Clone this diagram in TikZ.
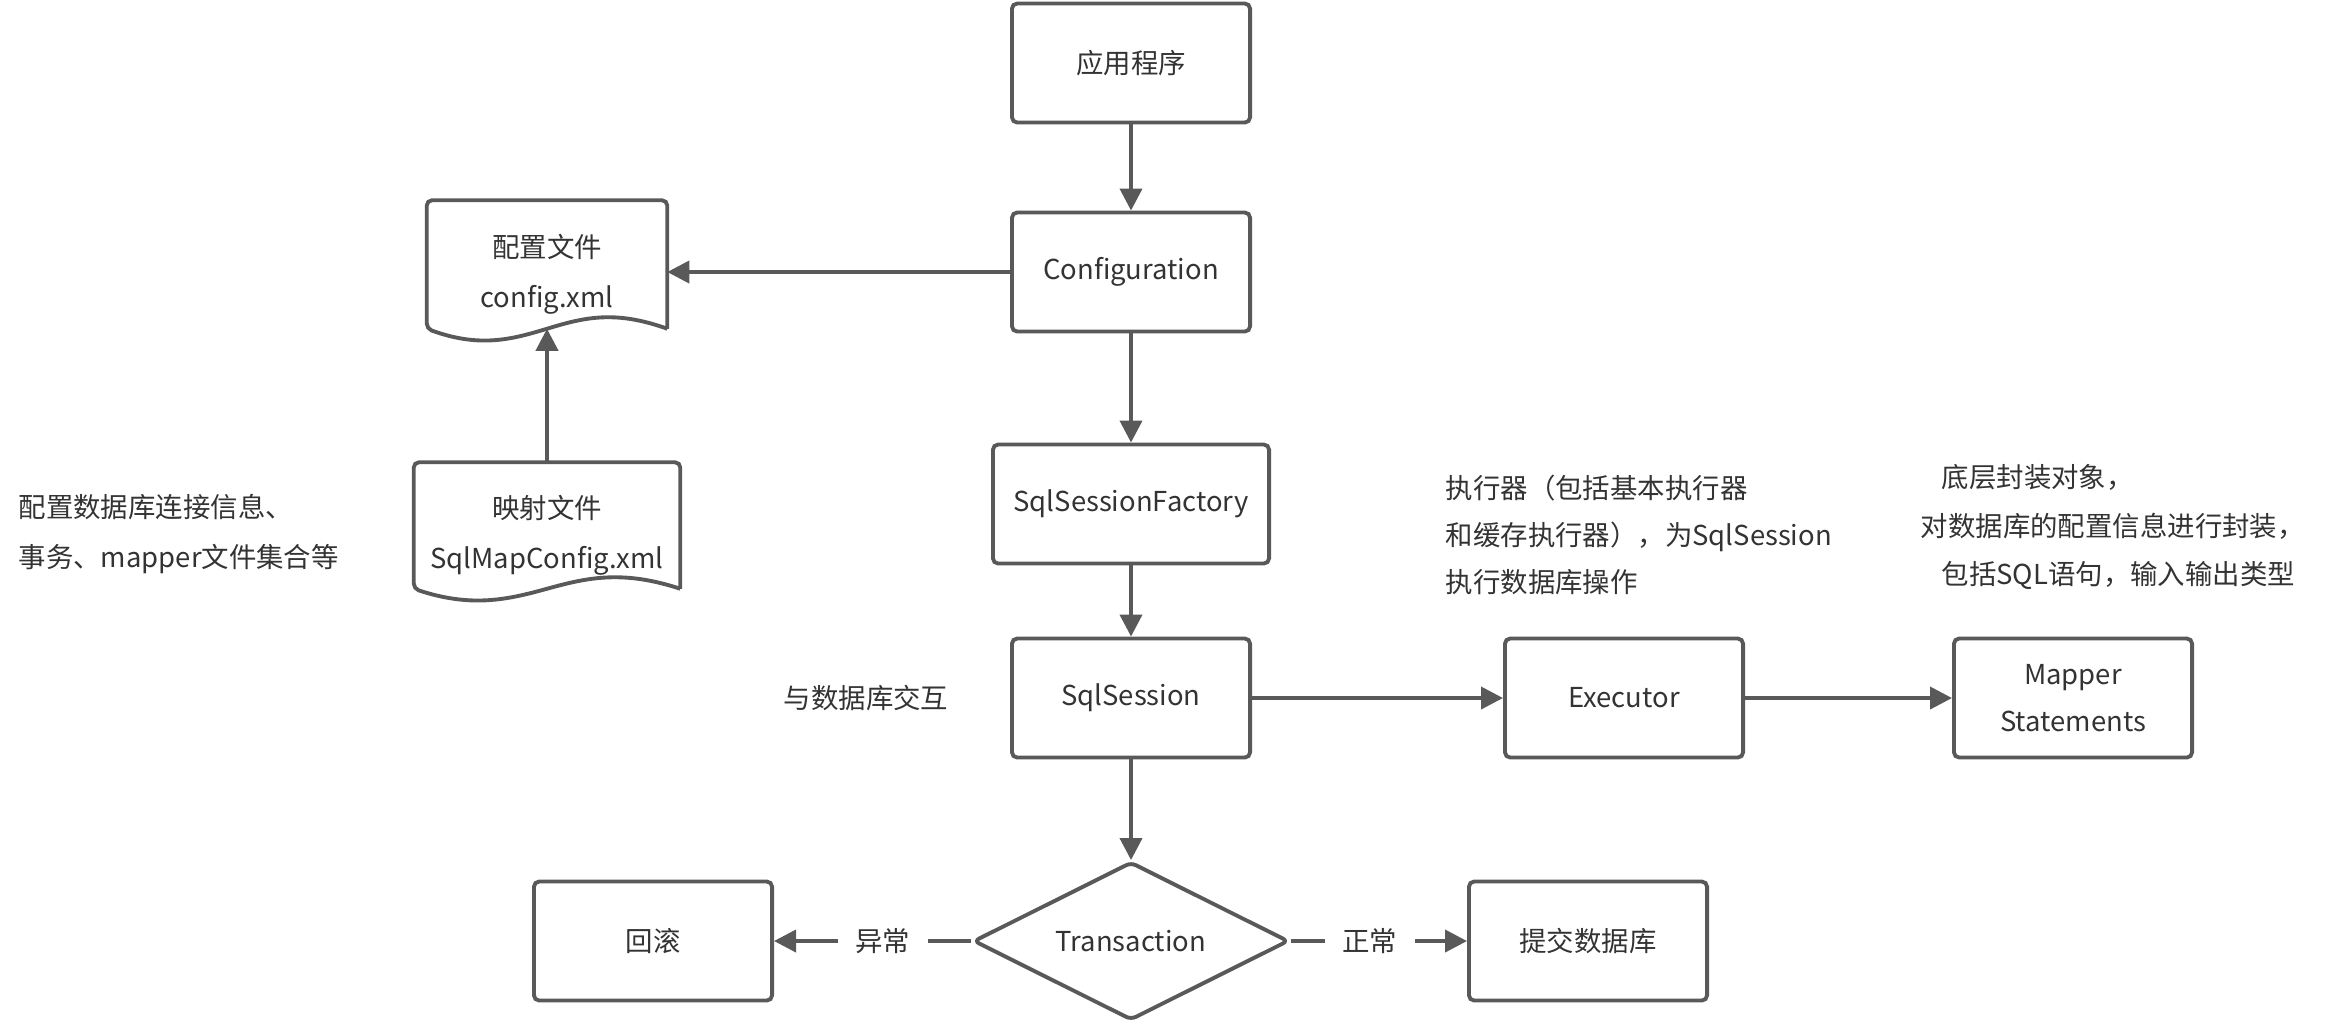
\documentclass[tikz,border=0pt]{standalone}
\usepackage{fontspec}
\setmainfont{Noto Sans CJK SC}
\usetikzlibrary{shapes.geometric,arrows.meta}
\definecolor{linegray}{HTML}{595959}
\definecolor{textgray}{HTML}{333333}

\begin{document}
\begin{tikzpicture}[x=0.01cm, y=-0.01cm, >={Triangle[length=0.22cm, width=0.22cm]},
  font=\fontsize{7.8}{13.3}\selectfont, text=textgray,
  every node/.style={align=center},
  shapeline/.style={draw=linegray, line width=1.1pt, rounded corners=1.5pt},
  flowbox/.style={shapeline, minimum width=2.38cm, minimum height=1.19cm, inner sep=0pt},
  docbox/.style={minimum width=2.39cm, minimum height=1.46cm, inner sep=0pt},
  decision/.style={diamond, shapeline, aspect=2, minimum width=3.15cm, minimum height=1.58cm, inner sep=0pt},
  note/.style={align=left, inner sep=0pt},
  arrow/.style={draw=linegray, line width=1.1pt, ->},
  tag/.style={fill=white, inner xsep=5pt, inner ysep=1pt, pos=0.45}]

  \useasboundingbox (0,0) rectangle (2346,1023);

  \node [flowbox] (app) at (1131,63) {应用程序};
  \node [flowbox] (cfgclass) at (1131,272) {Configuration};
  \node [flowbox, minimum width=2.76cm] (factory) at (1131,504) {SqlSessionFactory};
  \node [flowbox] (session) at (1131,698) {SqlSession};
  \node [decision] (trans) at (1131,941) {Transaction};
  \node [flowbox] (rollback) at (653,941) {回滚};
  \node [flowbox] (commit) at (1588,941) {提交数据库};
  \node [flowbox] (executor) at (1624,698) {Executor};
  \node [flowbox] (mapper) at (2073,698) {Mapper\\Statements};

  \node [docbox] (cfgfile) at (547,274) {配置文件\\[0.03cm]config.xml};
  \coordinate (cfgfile-wave) at ([yshift=0.19cm]cfgfile.south);
  \draw [shapeline] ([yshift=0.19cm]cfgfile.south east) -- (cfgfile.north east) -- (cfgfile.north west) -- ([yshift=0.19cm]cfgfile.south west)
    .. controls +(50,18) and +(-40,12) .. (cfgfile-wave)
    .. controls +(40,-12) and +(-50,-18) .. ([yshift=0.19cm]cfgfile.south east);

  \node [docbox, minimum width=2.65cm, minimum height=1.44cm] (mapfile) at (547,535) {映射文件\\[0.03cm]SqlMapConfig.xml};
  \coordinate (mapfile-wave) at ([yshift=0.19cm]mapfile.south);
  \draw [shapeline] ([yshift=0.19cm]mapfile.south east) -- (mapfile.north east) -- (mapfile.north west) -- ([yshift=0.19cm]mapfile.south west)
    .. controls +(55,18) and +(-44,12) .. (mapfile-wave)
    .. controls +(44,-12) and +(-55,-18) .. ([yshift=0.19cm]mapfile.south east);

  \node [note, anchor=west, font=\fontsize{7.8}{14.2}\selectfont] (notecfg) at (18,534) {配置数据库连接信息、\\事务、mapper文件集合等};
  \node (noteio) at (866,698) {与数据库交互};
  \node [note, anchor=west] (noteexec) at (1445,535) {执行器（包括基本执行器\\和缓存执行器），为SqlSession\\执行数据库操作};
  \node [note, anchor=west, font=\fontsize{7.8}{13.7}\selectfont] (notemapper) at (1920,527) {\hspace*{0.21cm}底层封装对象，\\对数据库的配置信息进行封装，\\\hspace*{0.21cm}包括SQL语句，输入输出类型};

  \foreach \a/\b in {app/cfgclass, cfgclass/factory, factory/session, session/trans}
  \draw [arrow] (\a) -- (\b);

  \draw [arrow] (cfgclass.west) -- (cfgclass.west -| cfgfile.east);
  \draw [arrow] (mapfile.north) -- (cfgfile-wave);
  \draw [arrow] (session) -- (executor);
  \draw [arrow] (executor) -- (mapper);

  \draw [arrow] (trans.west) -- node [tag] {异常} (rollback.east);
  \draw [arrow] (trans.east) -- node [tag] {正常} (commit.west);

\end{tikzpicture}
\end{document}
